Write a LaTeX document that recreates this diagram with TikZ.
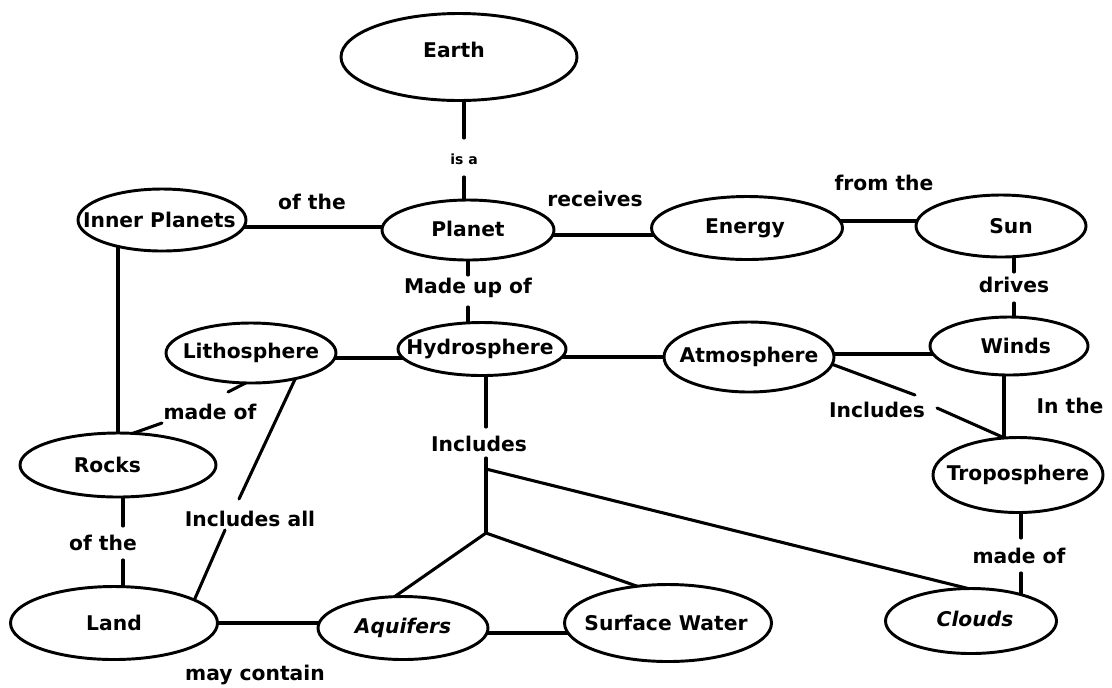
\documentclass[tikz,border=0pt]{standalone}
\usepackage{fontspec}
\setmainfont{DejaVu Sans}
\usetikzlibrary{shapes.geometric,backgrounds,calc}
% text placed at a small offset inside an ellipse without enlarging it
\newcommand{\cbx}[3][0pt]{\makebox[0pt][c]{\hspace*{#1}\raisebox{#2}{#3}}}
\begin{document}
\begin{tikzpicture}[x=0.75pt,y=-0.75pt,
  concept/.style={ellipse,draw,fill=white,line width=2.2pt,inner sep=0pt,outer sep=0pt,
    font=\fontsize{15.2pt}{18pt}\selectfont\bfseries},
  sz/.style 2 args={minimum width=#1*0.75pt,minimum height=#2*0.75pt},
  lbl/.style={inner sep=0pt,font=\fontsize{15.2pt}{18pt}\selectfont\bfseries},
  smalllbl/.style={inner sep=0pt,font=\fontsize{10.5pt}{12pt}\selectfont\bfseries},
  conn/.style={line width=2.3pt,line cap=round}]
\useasboundingbox (0,0) rectangle (1112,687);

% concepts
\node[concept,sz={236}{87}] (earth) at (459,57) {\cbx[-7.5pt]{10.5pt}{Earth}};
\node[concept,sz={168}{62}] (inner) at (162,220) {\cbx[-4pt]{0pt}{Inner Planets}};
\node[concept,sz={172}{60}] (planet) at (468,230) {\cbx{2pt}{Planet}};
\node[concept,sz={191}{63}] (energy) at (747,228) {\cbx[-3pt]{-2pt}{Energy}};
\node[concept,sz={170}{62}] (sun) at (1001,226) {\cbx[15pt]{0pt}{Sun}};
\node[concept,sz={170}{60}] (litho) at (251,353) {\cbx{2pt}{Lithosphere}};
\node[concept,sz={168}{53}] (hydro) at (482,349) {\cbx[-3pt]{2pt}{Hydrosphere}};
\node[concept,sz={170}{70}] (atmo) at (749,357) {\cbx{2pt}{Atmosphere}};
\node[concept,sz={158}{58}] (winds) at (1009,346) {\cbx[10pt]{0pt}{Winds}};
\node[concept,sz={170}{75}] (tropo) at (1018,475) {\cbx{0pt}{Troposphere}};
\node[concept,sz={196}{64}] (rocks) at (118,465) {\cbx[-16pt]{0pt}{Rocks}};
\node[concept,sz={207}{73}] (land) at (114,623) {\cbx{0pt}{Land}};
\node[concept,sz={170}{63}] (aquifers) at (403,628) {\cbx{0pt}{\itshape Aquifers}};
\node[concept,sz={207}{77}] (sw) at (668,623) {\cbx[-3pt]{0pt}{Surface Water}};
\node[concept,sz={171}{65}] (clouds) at (971,621) {\cbx[6pt]{3pt}{\itshape Clouds}};

% labels
\node[smalllbl] (isa) at (464,159) {is a};
\node[lbl] (ofthe1) at (312,202) {of the};
\node[lbl] (receives) at (595,199) {receives};
\node[lbl] (fromthe) at (884,183) {from the};
\node[lbl] (madeup) at (468,288) {Made up of};
\node[lbl] (drives) at (1014,285) {drives};
\node[lbl] (madeof1) at (210,412) {made of};
\node[lbl] (incall) at (250,519) {Includes all};
\node[lbl] (includes1) at (479,444) {Includes};
\node[lbl] (includes2) at (877,410) {Includes};
\node[lbl] (inthe) at (1070,406) {In the};
\node[lbl] (ofthe2) at (103,543) {of the};
\node[lbl] (madeof2) at (1019,556) {made of};
\node[lbl] (maycontain) at (255,675) {may contain};

% free ends
\coordinate (jA) at (486,469);
\coordinate (jB) at (486,533);
\coordinate (rlx) at (123,543);
\coordinate (tcx) at (1021,556);
\coordinate (wt) at (1004,400);
\coordinate (lr1) at (228,392);
\coordinate (lr2) at (162,423);
\coordinate (ll1) at (239,499);
\coordinate (ll2) at (225,530);
\coordinate (at1) at (915,395);
\coordinate (at2) at (937,408);

\begin{scope}[on background layer]
% vertical broken connectors
\draw[conn] (isa |- earth) -- ($(isa)+(0,-21)$);
\draw[conn] ($(isa)+(0,18)$) -- (isa |- planet);
\draw[conn] (madeup |- planet) -- ($(madeup)+(0,-13)$);
\draw[conn] ($(madeup)+(0,19)$) -- (madeup |- hydro);
\draw[conn] (drives |- sun) -- ($(drives)+(0,-13)$);
\draw[conn] ($(drives)+(0,18)$) -- (drives |- winds);
\draw[conn] (jA |- hydro) -- ($(jA |- includes1)+(0,-17)$);
\draw[conn] ($(jA |- includes1)+(0,14)$) -- (jB);
\draw[conn] (rlx |- rocks) -- ($(rlx)+(0,-17)$);
\draw[conn] ($(rlx)+(0,17)$) -- (rlx |- land);
\draw[conn] (tcx |- tropo) -- ($(tcx)+(0,-18)$);
\draw[conn] ($(tcx)+(0,17)$) -- (tcx |- clouds);
% unbroken verticals
\draw[conn] (rocks) -- (rocks |- inner);
\draw[conn] (wt |- winds) -- (wt |- tropo);
% horizontals
\draw[conn] ($(inner)+(0,7)$) -- ($(planet)+(0,-3)$);
\draw[conn] ($(planet)+(0,5)$) -- ($(energy)+(0,7)$);
\draw[conn] ($(energy)+(0,-7)$) -- ($(sun)+(0,-5)$);
\draw[conn] ($(litho)+(0,5)$) -- ($(hydro)+(0,9)$);
\draw[conn] ($(hydro)+(0,8)$) -- (atmo);
\draw[conn] ($(atmo)+(0,-3)$) -- ($(winds)+(0,8)$);
\draw[conn] (land) -- ($(aquifers)+(0,-5)$);
\draw[conn] ($(aquifers)+(0,5)$) -- ($(sw)+(0,10)$);
% diagonals
\draw[conn] (litho.-100) -- (lr1);
\draw[conn] (lr2) -- (rocks.65);
\draw[conn] (litho.-30) -- (ll1);
\draw[conn] (ll2) -- (land.16);
\draw[conn] (atmo.-5) -- (at1);
\draw[conn] (at2) -- (tropo.110);
\draw[conn] (jA) -- (clouds.95);
\draw[conn] (jB) -- (aquifers.105);
\draw[conn] (jB) -- (sw.130);
\end{scope}
\end{tikzpicture}
\end{document}
